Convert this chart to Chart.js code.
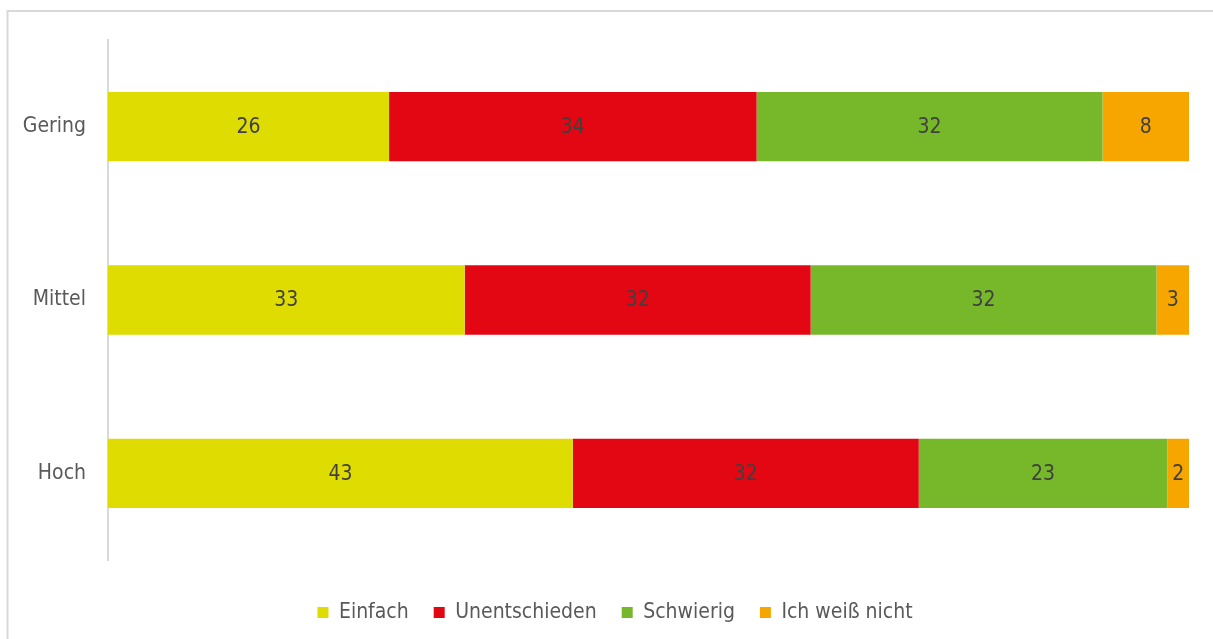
<!DOCTYPE html>
<html>
<head>
<meta charset="utf-8">
<script src="https://cdn.jsdelivr.net/npm/chart.js@4"></script>
<style>
  html, body { margin: 0; padding: 0; background: #fff; }
  #wrap { width: 1213px; height: 639px; }
</style>
</head>
<body>
<div id="wrap"><canvas id="chart" width="1213" height="639"></canvas></div>
<script>
// Rows and stacked shares (each row adds up to 100)
const categories = ["Gering", "Mittel", "Hoch"];
const seriesNames = ["Einfach", "Unentschieden", "Schwierig", "Ich weiß nicht"];
const einfach = [26, 33, 43];
const unentschieden = [34, 32, 32];
const schwierig = [32, 32, 23];
const weissNicht = [8, 3, 2];
const seriesColors = ["#dedc00", "#e30613", "#76b82a", "#f7a600"];

const FONT = '"Liberation Sans Narrow", "DejaVu Sans Condensed", Roboto, sans-serif';
const FONT_SIZE = 21;

// value written in the middle of every segment
const valueLabels = {
    id: "valueLabels",
    afterDatasetsDraw(chart) {
        const ctx = chart.ctx;
        ctx.save();
        ctx.font = FONT_SIZE + "px " + FONT;
        ctx.fillStyle = "#404040";
        ctx.textAlign = "center";
        ctx.textBaseline = "middle";
        chart.data.datasets.forEach((ds, i) => {
            chart.getDatasetMeta(i).data.forEach((bar, j) => {
                const p = bar.getProps(["x", "y", "base"], true);
                ctx.fillText(ds.data[j], (p.x + p.base) / 2, p.y + 1);
            });
        });
        ctx.restore();
    }
};

// light grey frame along the top and left edge
const frame = {
    id: "frame",
    beforeDraw(chart) {
        const ctx = chart.ctx;
        ctx.save();
        ctx.strokeStyle = "#d9d9d9";
        ctx.lineWidth = 2;
        ctx.beginPath();
        ctx.moveTo(7.5, chart.height);
        ctx.lineTo(7.5, 11);
        ctx.lineTo(chart.width, 11);
        ctx.stroke();
        ctx.restore();
    }
};

const values = [einfach, unentschieden, schwierig, weissNicht];

const ctx = document.getElementById("chart").getContext("2d");
const chart = new Chart(ctx, {
    type: "bar",
    data: {
        labels: categories,
        datasets: seriesNames.map((name, i) => ({
            label: name,
            data: values[i],
            backgroundColor: seriesColors[i],
            borderWidth: 0,
            categoryPercentage: 1,
            barPercentage: 0.4
        }))
    },
    options: {
        indexAxis: "y",
        responsive: false,
        animation: false,
        layout: { padding: { top: 40, right: 0, bottom: 6, left: 17 } },
        scales: {
            x: {
                stacked: true,
                min: 0,
                max: 100,
                grid: { display: false },
                border: { display: false },
                ticks: { display: false },
                afterFit: s => { s.height = 17; }
            },
            y: {
                stacked: true,
                grid: { display: false },
                border: { display: true, color: "#d9d9d9", width: 2 },
                ticks: { padding: 14, color: "#595959", font: { family: FONT, size: FONT_SIZE } },
                afterFit: s => { s.width = 91; }
            },
            // empty right-hand strip, keeps the bars clear of the edge
            yRight: {
                position: "right",
                grid: { display: false },
                border: { display: false },
                ticks: { display: false },
                afterFit: s => { s.width = 24; }
            }
        },
        plugins: {
            legend: {
                position: "bottom",
                labels: {
                    boxWidth: 11,
                    boxHeight: 11,
                    padding: 25,
                    color: "#595959",
                    font: { family: FONT, size: FONT_SIZE }
                }
            },
            tooltip: { enabled: false }
        }
    },
    plugins: [frame, valueLabels]
});
</script>
</body>
</html>
